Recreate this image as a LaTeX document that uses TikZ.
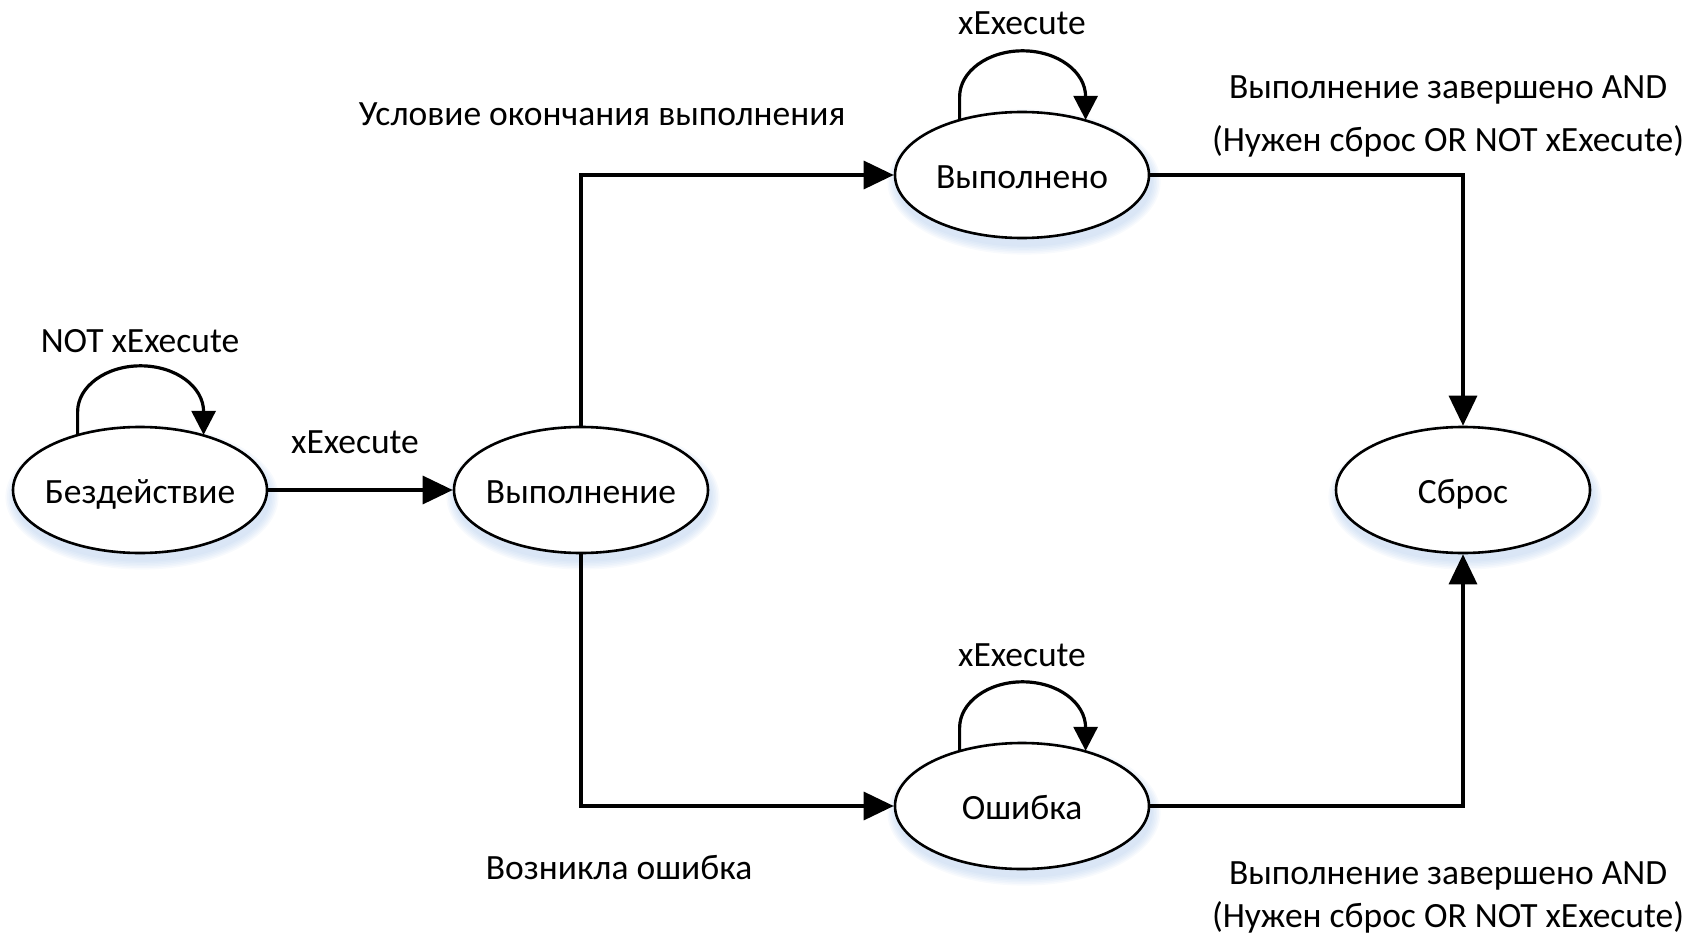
\documentclass[tikz,border=0pt]{standalone}
\usepackage{fontspec}
\setmainfont{Carlito}
\usetikzlibrary{arrows.meta,shapes.geometric}
\definecolor{shadowblue}{RGB}{150,185,230}
\newcommand{\stt}[1]{\makebox[0pt]{#1}}
\begin{document}
\begin{tikzpicture}[x=1pt,y=-1pt,
  state/.style={ellipse, draw, line width=2.6pt, fill=white, minimum width=254pt, minimum height=126pt, inner sep=0pt, font=\fontsize{35.5}{42}\selectfont, text height=26pt, text depth=0pt},
  conn/.style={line width=3.2pt, -{Triangle[length=30pt,width=28pt]}},
  selfloop/.style={line width=3.2pt, -{Triangle[length=24pt,width=24pt]}},
  lbl/.style={font=\fontsize{35.5}{42}\selectfont, inner sep=0pt, anchor=base},
  shadowfill/.style={fill=shadowblue, opacity=0.07}
]
\useasboundingbox (0,0) rectangle (1687,934);
% soft shadows
\foreach \cx/\cy in {140/490, 581/490, 1022/175, 1022/806, 1463/490}{
  \foreach \k in {1,...,6}{
    \fill[shadowfill] (\cx+2,\cy+7) ellipse [x radius={127pt+\k*1.6pt}, y radius={63pt+\k*1.6pt}];
  }
}
% states
\node[state] (idle) at (140,490) {\stt{Бездействие}};
\node[state] (exec) at (581,490) {\stt{Выполнение}};
\node[state] (done) at (1022,175) {\stt{Выполнено}};
\node[state] (err) at (1022,806) {\stt{Ошибка}};
\node[state] (reset) at (1463,490) {\stt{Сброс}};
% connectors
\draw[conn] (idle) -- (exec);
\draw[conn] (exec.north) |- (done.west);
\draw[conn] (exec.south) |- (err.west);
\draw[conn] (done.east) -| (reset.north);
\draw[conn] (err.east) -| (reset.south);
% self loops
\draw[selfloop] (idle.138) -- ++(0,-22) arc[start angle=180, end angle=0, x radius=63pt, y radius=46pt] -- ++(0,23);
\draw[selfloop] (done.138) -- ++(0,-22) arc[start angle=180, end angle=0, x radius=63pt, y radius=46pt] -- ++(0,23);
\draw[selfloop] (err.138) -- ++(0,-22) arc[start angle=180, end angle=0, x radius=63pt, y radius=46pt] -- ++(0,23);
% labels
\node[lbl] (l1) at (140,352) {NOT xExecute};
\node[lbl] (l2) at (1022,35) {xExecute};
\node[lbl] (l3) at (355,453) {xExecute};
\node[lbl] (l4) at (602,125) {Условие окончания выполнения};
\node[lbl] (l5) at (1022,666) {xExecute};
\node[lbl] (l6) at (619,879) {Возникла ошибка};
\node[lbl] (l7) at (1448,99) {Выполнение завершено AND};
\node[lbl] (l8) at (1448,151) {(Нужен сброс OR NOT xExecute)};
\node[lbl] (l9) at (1448,884) {Выполнение завершено AND};
\node[lbl] (l10) at (1448,927) {(Нужен сброс OR NOT xExecute)};
\end{tikzpicture}
\end{document}
